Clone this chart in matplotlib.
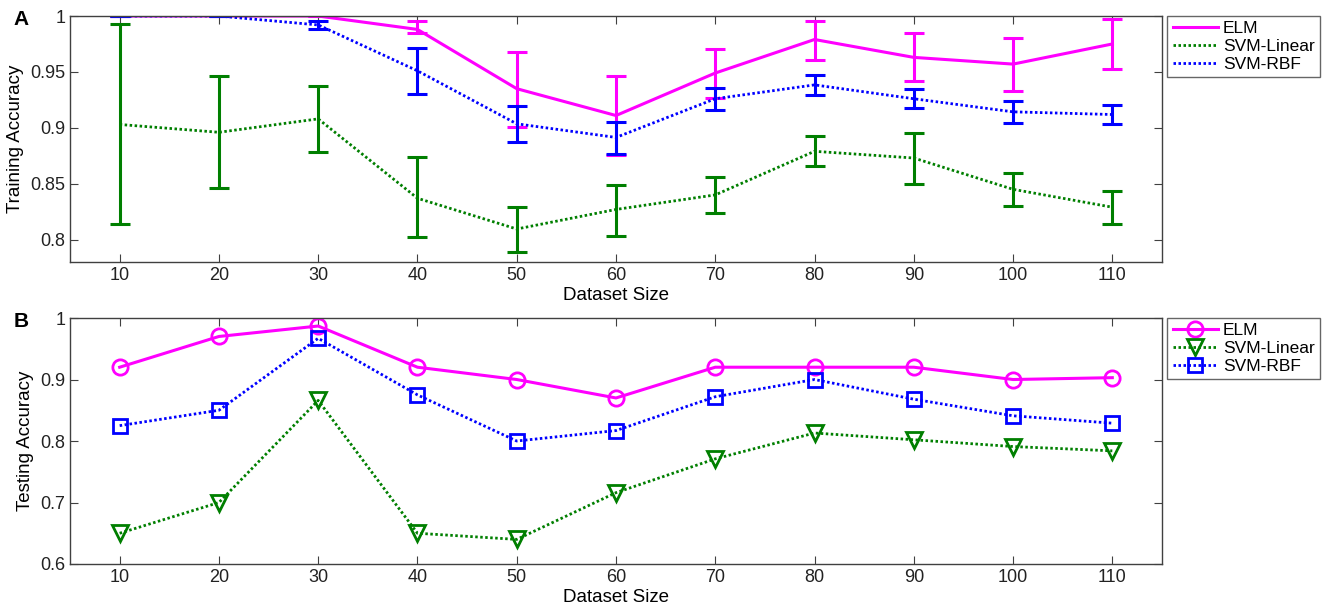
import matplotlib
matplotlib.use("Agg")
import matplotlib.pyplot as plt

plt.rcParams['font.family'] = ['Liberation Sans', 'DejaVu Sans']

sizes = [10, 20, 30, 40, 50, 60, 70, 80, 90, 100, 110]
series_names = ["ELM", "SVM-Linear", "SVM-RBF"]

# Panel A: training accuracy (mean, lower bound, upper bound)
train_elm = [1.0, 1.0, 1.0, 0.988, 0.935, 0.911, 0.949, 0.979, 0.963, 0.957, 0.975]
train_elm_lo = [1.0, 1.0, 1.0, 0.9845, 0.901, 0.8756, 0.927, 0.961, 0.942, 0.933, 0.953]
train_elm_hi = [1.0, 1.0, 1.0, 0.9952, 0.968, 0.9464, 0.9705, 0.9958, 0.9845, 0.9807, 0.9973]

train_lin = [0.903, 0.896, 0.908, 0.837, 0.8095, 0.827, 0.840, 0.879, 0.873, 0.845, 0.829]
train_lin_lo = [0.814, 0.846, 0.878, 0.802, 0.789, 0.8036, 0.8238, 0.8655, 0.850, 0.8304, 0.8143]
train_lin_hi = [0.993, 0.946, 0.9375, 0.874, 0.829, 0.8488, 0.856, 0.8923, 0.8958, 0.8592, 0.8432]

train_rbf = [1.0, 1.0, 0.992, 0.951, 0.9036, 0.8914, 0.926, 0.9384, 0.926, 0.9143, 0.9119]
train_rbf_lo = [1.0, 1.0, 0.988, 0.930, 0.887, 0.877, 0.9155, 0.9298, 0.9176, 0.9045, 0.9036]
train_rbf_hi = [1.0, 1.0, 0.9958, 0.971, 0.9196, 0.9054, 0.9354, 0.9473, 0.9345, 0.9241, 0.920]

# Panel B: testing accuracy
test_elm = [0.92, 0.97, 0.987, 0.92, 0.90, 0.87, 0.92, 0.92, 0.92, 0.90, 0.903]
test_lin = [0.65, 0.70, 0.866, 0.65, 0.64, 0.716, 0.771, 0.813, 0.802, 0.791, 0.784]
test_rbf = [0.825, 0.85, 0.967, 0.875, 0.80, 0.817, 0.872, 0.90, 0.868, 0.841, 0.829]

colors = ["#FF00FF", "#007F00", "#0000FF"]
styles = ["-", ":", ":"]
markers = ["o", "v", "s"]
msizes = [11, 12, 9.5]

fig = plt.figure(figsize=(13.24, 6.09), dpi=100)
axA = fig.add_axes([0.0529, 0.5698, 0.8247, 0.4039])
axB = fig.add_axes([0.0529, 0.0739, 0.8247, 0.4039])

spine_c = "#404040"

def line_kw(ls):
    if ls == "-":
        return dict(linestyle="-", linewidth=2.2)
    return dict(linestyle=(0, (0.9, 0.9)), linewidth=2.0)

def style_axes(ax):
    ax.set_xlim(5, 115)
    ax.set_xticks(sizes)
    ax.tick_params(direction="in", top=True, right=True, length=6,
                   labelsize=13, colors=spine_c, labelcolor="#222222")
    for s in ax.spines.values():
        s.set_color(spine_c)
        s.set_linewidth(1.0)
    ax.set_xlabel("Dataset Size", fontsize=13.5, labelpad=2)

def make_legend(ax):
    leg = ax.legend(loc="upper left", bbox_to_anchor=(1.005, 1.0), fontsize=12.5,
                    frameon=True, fancybox=False, edgecolor=spine_c, handlelength=2.6,
                    borderaxespad=0, handletextpad=0.3, borderpad=0.3, labelspacing=0.15)
    leg.get_frame().set_linewidth(1.0)
    return leg

# Panel A
train_means = [train_elm, train_lin, train_rbf]
train_los = [train_elm_lo, train_lin_lo, train_rbf_lo]
train_his = [train_elm_hi, train_lin_hi, train_rbf_hi]
for name, m, lo, hi, c, ls in zip(series_names, train_means, train_los, train_his, colors, styles):
    axA.plot(sizes, m, color=c, label=name, **line_kw(ls))
    yerr = [[mi - l for mi, l in zip(m, lo)], [h - mi for mi, h in zip(m, hi)]]
    axA.errorbar(sizes, m, yerr=yerr, fmt="none", ecolor=c, elinewidth=2.2,
                 capsize=7.2, capthick=2.2)
axA.set_ylim(0.78, 1.0)
axA.set_yticks([0.8, 0.85, 0.9, 0.95, 1.0])
axA.set_yticklabels(["0.8", "0.85", "0.9", "0.95", "1"])
style_axes(axA)
axA.set_ylabel("Training Accuracy", fontsize=13.5)
make_legend(axA)

# Panel B
test_vals = [test_elm, test_lin, test_rbf]
for name, v, c, ls, mk, ms in zip(series_names, test_vals, colors, styles, markers, msizes):
    axB.plot(sizes, v, color=c, marker=mk, markersize=ms,
             markerfacecolor="none", markeredgecolor=c, markeredgewidth=2.0,
             label=name, **line_kw(ls))
axB.set_ylim(0.6, 1.0)
axB.set_yticks([0.6, 0.7, 0.8, 0.9, 1.0])
axB.set_yticklabels(["0.6", "0.7", "0.8", "0.9", "1"])
style_axes(axB)
axB.set_ylabel("Testing Accuracy", fontsize=13.5)
make_legend(axB)

fig.text(0.010, 0.968, "A", fontsize=15, fontweight="bold", va="center")
fig.text(0.010, 0.472, "B", fontsize=15, fontweight="bold", va="center")

fig.savefig("out.png", dpi=100)
